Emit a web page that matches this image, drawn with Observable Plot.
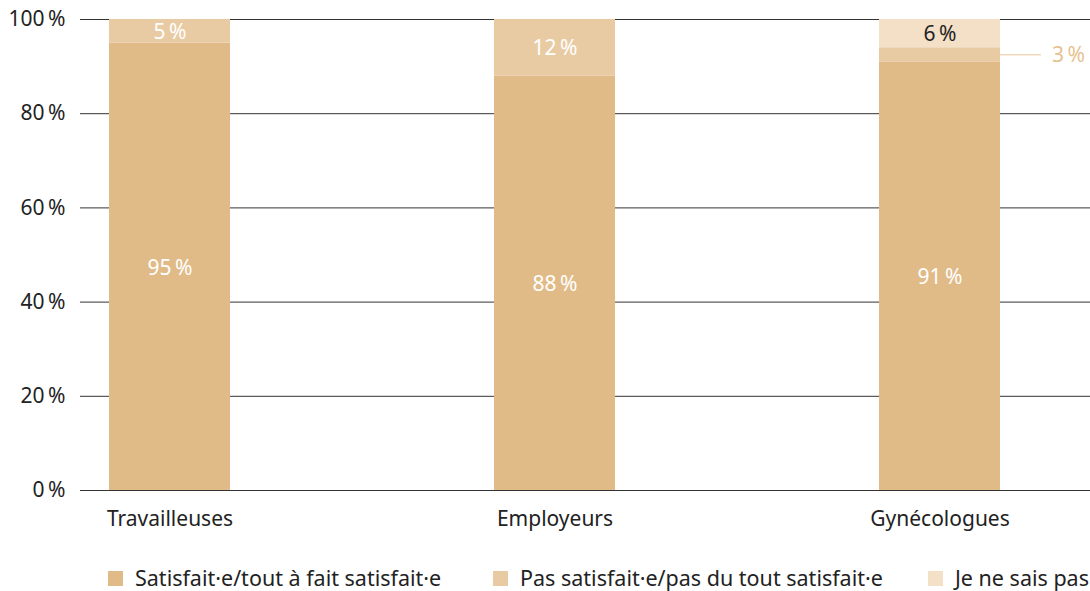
<!DOCTYPE html>
<html>
<head>
<meta charset="utf-8">
<script src="https://cdn.jsdelivr.net/npm/d3@7"></script>
<script src="https://cdn.jsdelivr.net/npm/@observablehq/plot@0.6"></script>
<style>
  body { margin: 0; background: #fff; font-family: "Noto Sans", sans-serif; }
  #wrap { position: relative; width: 1090px; }
  #legend { position: relative; height: 43px; width: 1090px; font-size: 21.5px; color: #222; }
  .sw { position: absolute; top: 23px; width: 15px; height: 15px; }
  .lab { position: absolute; top: 19px; line-height: 1; white-space: nowrap; }
</style>
</head>
<body>
<div id="wrap"></div>
<script>
const categories = ["Travailleuses", "Employeurs", "Gynécologues"];
const series = ["Satisfait·e/tout à fait satisfait·e", "Pas satisfait·e/pas du tout satisfait·e", "Je ne sais pas"];
const satisfied = [95, 88, 91];
const notSatisfied = [5, 12, 3];
const dontKnow = [0, 0, 6];
const colors = ["#e0bb87", "#e9cba3", "#f3e0c7"];
const yTicks = [0, 20, 40, 60, 80, 100];
const legendLeft = [108, 493, 928];

const values = [satisfied, notSatisfied, dontKnow];
const rows = [];
categories.forEach((c, i) => {
  let acc = 0;
  series.forEach((s, j) => {
    const v = values[j][i];
    if (v > 0) {
      rows.push({cat: c, series: s, value: v, y1: acc, y2: acc + v, mid: acc + v / 2,
                 label: v + "\u202f%", outside: (c === "Gynécologues" && j === 1), dark: j === 2});
    }
    acc += v;
  });
});
const inside = rows.filter(d => !d.outside);
const outside = rows.filter(d => d.outside);

const plot = Plot.plot({
  width: 1090,
  height: 548,
  marginTop: 19,
  marginBottom: 58,
  marginLeft: 80,
  marginRight: 0,
  style: {fontFamily: "'Noto Sans', sans-serif", fontSize: "21px", color: "#222", background: "#fff"},
  x: {domain: categories, paddingInner: 0.6857, paddingOuter: 0.154, align: 0.244, label: null, tickSize: 0, tickPadding: 21},
  y: {domain: [0, 100], ticks: yTicks, tickFormat: d => d + "\u202f%", label: null, tickSize: 0, tickPadding: 15},
  color: {domain: series, range: colors},
  marks: [
    Plot.ruleY(yTicks, {stroke: "#333", strokeWidth: 1}),
    Plot.barY(rows, {x: "cat", y1: "y1", y2: "y2", fill: "series"}),
    Plot.text(inside, {x: "cat", y: "mid", text: "label", fill: d => d.dark ? "#222" : "#fff", fontSize: 21, dy: 1}),
    Plot.ruleY(outside, {x1: "cat", x2: "cat", y: "mid", stroke: "#efd9bc", strokeWidth: 1.5, insetLeft: 121, insetRight: -41}),
    Plot.text(outside, {x: "cat", y: "mid", text: "label", fill: "#e6c290", fontSize: 21, textAnchor: "start", dx: 112})
  ]
});
document.getElementById("wrap").appendChild(plot);

const legend = document.createElement("div");
legend.id = "legend";
series.forEach((s, j) => {
  const sw = document.createElement("span");
  sw.className = "sw";
  sw.style.left = legendLeft[j] + "px";
  sw.style.background = colors[j];
  legend.appendChild(sw);
  const lab = document.createElement("span");
  lab.className = "lab";
  lab.style.left = (legendLeft[j] + 27) + "px";
  lab.textContent = s;
  legend.appendChild(lab);
});
document.getElementById("wrap").appendChild(legend);
</script>
</body>
</html>
